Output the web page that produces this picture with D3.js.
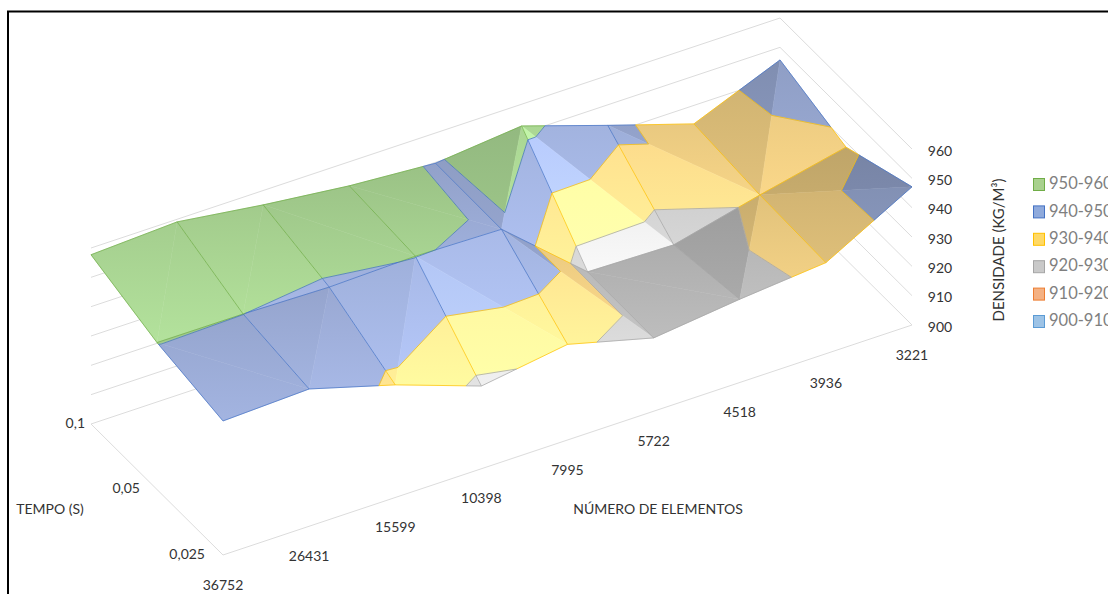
<!DOCTYPE html>
<html lang="pt">
<head>
<meta charset="utf-8">
<script src="https://cdn.jsdelivr.net/npm/d3@7"></script>
<style>
  html, body { margin: 0; padding: 0; background: #fff; overflow: hidden; }
  svg { display: block; }
  text { font-family: Lato, "Open Sans", sans-serif; }
</style>
</head>
<body>
<svg id="chart" width="1108" height="594"></svg>
<script>
// Number of mesh elements along the category axis
const elementos = ["36752", "26431", "15599", "10398", "7995", "5722", "4518", "3936", "3221"];
// Time series, back row first
const tempos = ["0,1", "0,05", "0,025"];
// Density (kg/m³) for each time step
const densidadeT01 = [957.7, 959.1, 955.1, 951.8, 949.7, 952.6, 943.0, 933.7, 945.7];
const densidadeT005 = [950.1, 950.02, 949.4, 950.15, 949.5, 925.2, 924.6, 931.8, 938.3];
const densidadeT0025 = [945.7, 946.8, 938.4, 928.2, 932.6, 925.0, 928.4, 931.07, 947.1];
const densidades = [densidadeT01, densidadeT005, densidadeT0025];
// Facet split of each cell: "a" joins (i+1,j)-(i,j+1), "b" joins (i,j)-(i+1,j+1)
const diagonaisSup = ["a", "a", "b", "b", "a", "b", "b", "a"];
const diagonaisInf = ["b", "a", "a", "b", "b", "b", "a", "b"];
// Value axis ticks and legend bands
const ticksZ = [900, 910, 920, 930, 940, 950, 960];
const faixas = ["900-910", "910-920", "920-930", "930-940", "940-950", "950-960"];
const bordasFaixa = ["#5b9bd5", "#ed7d31", "#a5a5a5", "#ffc000", "#4472c4", "#70ad47"];
const preenchLegenda = ["#9dc3e6", "#f4b183", "#c9c9c9", "#ffd966", "#8faadc", "#a9d18e"];
// Lit surface colours: multiplied by the facet's shade, then clamped
const baseFaixa = [[190, 225, 280], [320, 220, 170], [250, 250, 250], [322, 277, 176], [201, 222, 277], [212, 267, 184]];

const svg = d3.select("#chart");
const origem = { x: 91, y: 424 };
const xI = d3.scalePoint().domain(elementos).range([0, 689]);
const yI = d3.scalePoint().domain(elementos).range([0, -230]);
const xJ = d3.scalePoint().domain(tempos).range([0, 132]);
const yJ = d3.scalePoint().domain(tempos).range([0, 131]);
const zPx = d3.scaleLinear().domain([900, 960]).range([0, -176]);

const floorPt = (c, t) => [origem.x + xI(c) + xJ(t), origem.y + yI(c) + yJ(t)];
// Vertices carry fractional grid indices so clipping can interpolate them
const xi = d3.scaleLinear().domain(d3.range(elementos.length)).range(elementos.map(c => xI(c)));
const yi = d3.scaleLinear().domain(d3.range(elementos.length)).range(elementos.map(c => yI(c)));
const xj = d3.scaleLinear().domain(d3.range(tempos.length)).range(tempos.map(t => xJ(t)));
const yj = d3.scaleLinear().domain(d3.range(tempos.length)).range(tempos.map(t => yJ(t)));
const proj = v => [origem.x + xi(v.i) + xj(v.j), origem.y + yi(v.i) + yj(v.j) + zPx(v.z)];
const mix = (a, b, t) => ({ i: a.i + (b.i - a.i) * t, j: a.j + (b.j - a.j) * t, z: a.z + (b.z - a.z) * t });
const vert = (i, j) => ({ i, j, z: densidades[j][i] });

// Back wall, side wall and floor lines
const last = elementos[elementos.length - 1], first = elementos[0];
const gWalls = svg.append("g").attr("fill", "none").attr("stroke", "#dcdcdc").attr("stroke-width", 1);
const pBack = floorPt(first, tempos[0]), pCorner = floorPt(last, tempos[0]), pFront = floorPt(last, tempos[2]);
ticksZ.forEach(z => {
  const d = zPx(z);
  gWalls.append("polyline").attr("points",
    [[pBack[0], pBack[1] + d], [pCorner[0], pCorner[1] + d], [pFront[0], pFront[1] + d]].join(" "));
});
gWalls.append("polyline").attr("points",
  [pBack, floorPt(first, tempos[2]), pFront].join(" "));

// Keep the part of a convex polygon whose density lies on one side of a level
function clip(poly, level, keepAbove) {
  const inside = v => keepAbove ? v.z >= level : v.z <= level;
  const out = [];
  poly.forEach((a, k) => {
    const b = poly[(k + 1) % poly.length];
    if (inside(a)) out.push(a);
    if (inside(a) !== inside(b)) out.push(mix(a, b, (level - a.z) / (b.z - a.z)));
  });
  return out;
}

// Facet shade from its slope across the two grid directions
function shadeOf(di, dj) {
  let darken = 0;
  if (di > 0) darken = dj < -20 ? 0 : Math.min(0.1, 0.01 * di);
  else if (dj < 0) darken = 0.005 * Math.min(-di, -dj);
  return Math.min(0.95, 0.75 - 0.0075 * dj - darken);
}
function tone(base, s) {
  return d3.rgb(...base.map(c => Math.min(255, c * s))).formatHex();
}

// Nearly coplanar facet pairs share one shade so the split does not show
const limiteSuave = [0.035, 0.012];
const tris = [];
for (let j = 0; j < tempos.length - 1; j++) {
  const diag = j === 0 ? diagonaisSup : diagonaisInf;
  for (let i = 0; i < elementos.length - 1; i++) {
    const a = vert(i, j), b = vert(i + 1, j), c = vert(i, j + 1), d = vert(i + 1, j + 1);
    const par = diag[i] === "a"
      ? [{ pts: [a, b, c], s: shadeOf(b.z - a.z, c.z - a.z) }, { pts: [b, d, c], s: shadeOf(d.z - c.z, d.z - b.z) }]
      : [{ pts: [a, b, d], s: shadeOf(b.z - a.z, d.z - b.z) }, { pts: [a, d, c], s: shadeOf(d.z - c.z, c.z - a.z) }];
    if (Math.abs(par[0].s - par[1].s) < limiteSuave[j]) par[0].s = par[1].s = (par[0].s + par[1].s) / 2;
    const ys = [a, b, c, d].map(v => proj(v)[1]);
    par.forEach(t => { t.y0 = d3.min(ys); t.y1 = d3.max(ys); tris.push(t); });
  }
}

const defs = svg.append("defs");
const gFill = svg.append("g");
const line = d3.line();
let gid = 0;
tris.forEach(tri => {
  faixas.forEach((_, b) => {
    const lo = ticksZ[b], hi = ticksZ[b + 1];
    const poly = clip(clip(tri.pts, lo, true), hi, false);
    if (poly.length < 3) return;
    const id = "f" + (gid++);
    const grad = defs.append("linearGradient").attr("id", id)
      .attr("gradientUnits", "userSpaceOnUse")
      .attr("x1", 0).attr("x2", 0).attr("y1", tri.y0).attr("y2", tri.y1);
    grad.append("stop").attr("offset", 0).attr("stop-color", tone(baseFaixa[b], tri.s * 0.96));
    grad.append("stop").attr("offset", 1).attr("stop-color", tone(baseFaixa[b], tri.s * 1.05));
    gFill.append("path")
      .attr("d", line(poly.map(proj)) + "Z")
      .attr("fill", `url(#${id})`).attr("stroke", `url(#${id})`).attr("stroke-width", 0.5);
  });
});

// Mesh lines and band contours, each coloured by the band beneath it
const gLines = svg.append("g").attr("fill", "none").attr("stroke-width", 0.9).attr("stroke-linejoin", "round");
function drawEdge(a, b) {
  faixas.forEach((_, k) => {
    const lo = ticksZ[k], hi = ticksZ[k + 1];
    const seg = clip(clip([a, b], lo, true), hi, false);
    if (seg.length < 2) return;
    gLines.append("path").attr("d", line([seg[0], seg[seg.length > 2 ? 1 : seg.length - 1]].map(proj)))
      .attr("stroke", bordasFaixa[k]).attr("stroke-opacity", 0.8);
  });
}
densidades.forEach((row, j) => row.forEach((_, i) => {
  if (i < row.length - 1) drawEdge(vert(i, j), vert(i + 1, j));
  if (j < densidades.length - 1) drawEdge(vert(i, j), vert(i, j + 1));
}));
tris.forEach(tri => {
  ticksZ.slice(1, -1).forEach((lev, k) => {
    const cross = [];
    tri.pts.forEach((p, n) => {
      const q = tri.pts[(n + 1) % 3];
      if ((p.z < lev) !== (q.z < lev)) cross.push(mix(p, q, (lev - p.z) / (q.z - p.z)));
    });
    if (cross.length === 2) {
      gLines.append("path").attr("d", line(cross.map(proj)))
        .attr("stroke", bordasFaixa[k]).attr("stroke-opacity", 0.85);
    }
  });
});

// Axis labels
const gText = svg.append("g").attr("fill", "#333").attr("font-size", 14);
ticksZ.forEach(z => {
  gText.append("text").attr("x", pFront[0] + 28).attr("y", pFront[1] + zPx(z) + 3)
    .attr("text-anchor", "middle").attr("dominant-baseline", "middle").text(z);
});
elementos.forEach(c => {
  const p = floorPt(c, tempos[2]);
  gText.append("text").attr("x", p[0]).attr("y", p[1] + 31)
    .attr("text-anchor", "middle").attr("dominant-baseline", "middle").text(c);
});
const recuoTempo = [6, 17, 18];
tempos.forEach((t, k) => {
  const p = floorPt(first, t);
  gText.append("text").attr("x", p[0] - recuoTempo[k]).attr("y", p[1])
    .attr("text-anchor", "end").attr("dominant-baseline", "middle").text(t);
});
gText.append("text").attr("x", 50).attr("y", 510).attr("text-anchor", "middle")
  .attr("dominant-baseline", "middle").text("TEMPO (S)");
gText.append("text").attr("x", 658).attr("y", 510).attr("text-anchor", "middle")
  .attr("dominant-baseline", "middle").text("NÚMERO DE ELEMENTOS");
gText.append("text").attr("transform", "translate(1000,250) rotate(-90)")
  .attr("text-anchor", "middle").attr("dominant-baseline", "middle")
  .attr("font-size", 15).text("DENSIDADE (KG/M³)");

// Legend, highest band first; the labels run past the page edge
const yLeg = d3.scalePoint().domain(d3.range(faixas.length).reverse()).range([185, 322]);
faixas.forEach((f, k) => {
  const y = yLeg(k);
  svg.append("rect").attr("x", 1033.5).attr("y", y - 6.5).attr("width", 11).attr("height", 12)
    .attr("fill", preenchLegenda[k]).attr("stroke", bordasFaixa[k]).attr("stroke-width", 1);
  svg.append("text").attr("x", 1049).attr("y", y).attr("dominant-baseline", "middle")
    .attr("fill", "#7f7f7f").attr("font-size", 16.5).text(f);
});

// Chart frame
svg.append("path").attr("d", "M8,594V11.5H1108").attr("fill", "none").attr("stroke", "#000").attr("stroke-width", 2);
</script>
</body>
</html>
